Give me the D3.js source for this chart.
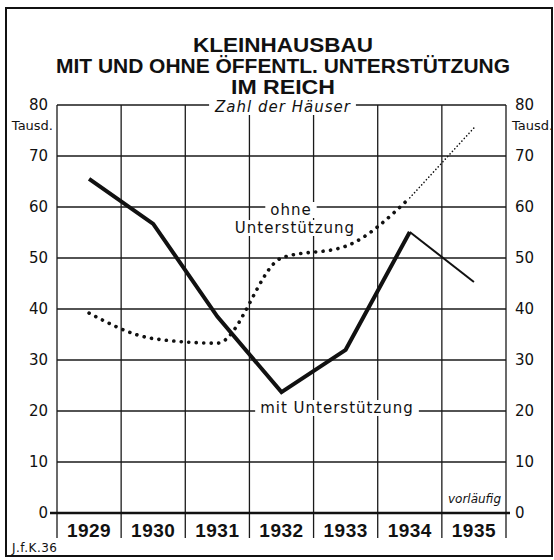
<!DOCTYPE html>
<html>
<head>
<meta charset="utf-8">
<script src="https://cdn.jsdelivr.net/npm/d3@7"></script>
<style>
  body { margin: 0; background: #fff; }
  svg { display: block; }
  .grid line { stroke: #1a1a1a; stroke-width: 1.3; }
  .lbl { font-family: "DejaVu Sans", sans-serif; fill: #111; }
  .title { font-family: "Liberation Sans", Arial, sans-serif; font-weight: bold; fill: #111; }
</style>
</head>
<body>
<div id="chart"></div>
<script>
// values (thousands of houses)
const years = ["1929", "1930", "1931", "1932", "1933", "1934", "1935"];
const mitValues = [65.5, 56.7, 38.5, 23.7, 32, 55.1, 45.3];
const ohneValues = [39.2, 34.2, 33.3, 50, 52.3, 61.8, 75.5];
const yTicks = [0, 10, 20, 30, 40, 50, 60, 70, 80];
const titleLines = ["KLEINHAUSBAU", "MIT UND OHNE ÖFFENTL. UNTERSTÜTZUNG", "IM REICH"];
// 1935 is provisional ("vorläufig")
const provisionalFrom = 5;

const width = 554,
      height = 560,
      plotLeft = 57,
      plotRight = 506,
      plotTop = 105,
      plotBottom = 513;

const svg = d3.select("#chart")
  .append("svg")
  .attr("width", width)
  .attr("height", height);

// frame
svg.append("rect")
  .attr("x", 6).attr("y", 8)
  .attr("width", 546).attr("height", 548)
  .attr("fill", "none")
  .attr("stroke", "#111")
  .attr("stroke-width", 2);

const xScale = d3.scaleBand()
  .domain(years)
  .range([plotLeft, plotRight])
  .padding(0);

const yScale = d3.scaleLinear()
  .domain([0, 80])
  .range([plotBottom, plotTop]);

const cx = d => xScale(d) + xScale.bandwidth() / 2;

// grid
const grid = svg.append("g").attr("class", "grid");

grid.selectAll(".h")
  .data(yTicks.filter(d => d > 0))
  .enter()
  .append("line")
  .attr("x1", plotLeft).attr("x2", plotRight)
  .attr("y1", d => yScale(d)).attr("y2", d => yScale(d));

grid.selectAll(".v")
  .data(years.map(d => xScale(d)).concat([plotRight]))
  .enter()
  .append("line")
  .attr("x1", d => d).attr("x2", d => d)
  .attr("y1", plotTop).attr("y2", plotBottom + 25);

// zero line, a little wider than the grid
svg.append("line")
  .attr("x1", plotLeft - 7).attr("x2", plotRight + 4)
  .attr("y1", yScale(0)).attr("y2", yScale(0))
  .attr("stroke", "#111")
  .attr("stroke-width", 2.6);

// y axes, left and right
const leftAxis = d3.axisLeft(yScale).tickValues(yTicks).tickSize(0).tickPadding(9);
const rightAxis = d3.axisRight(yScale).tickValues(yTicks).tickSize(0).tickPadding(9);

svg.append("g")
  .attr("transform", `translate(${plotLeft},0)`)
  .call(leftAxis)
  .call(g => g.select(".domain").remove())
  .selectAll("text")
  .attr("class", "lbl")
  .style("font-size", "15px");

svg.append("g")
  .attr("transform", `translate(${plotRight},0)`)
  .call(rightAxis)
  .call(g => g.select(".domain").remove())
  .selectAll("text")
  .attr("class", "lbl")
  .style("font-size", "15px");

svg.append("text").attr("class", "lbl")
  .attr("x", 53).attr("y", yScale(80) + 25)
  .attr("text-anchor", "end")
  .style("font-size", "13px")
  .text("Tausd.");

svg.append("text").attr("class", "lbl")
  .attr("x", 512).attr("y", yScale(80) + 25)
  .style("font-size", "13px")
  .text("Tausd.");

// year labels
svg.selectAll(".year")
  .data(years)
  .enter()
  .append("text")
  .attr("class", "title")
  .attr("x", d => cx(d))
  .attr("y", plotBottom + 24)
  .attr("text-anchor", "middle")
  .style("font-size", "19px")
  .style("letter-spacing", "0.5px")
  .text(d => d);

// lines
const mitPts = years.map((d, i) => [cx(d), yScale(mitValues[i])]);
const ohnePts = years.map((d, i) => [cx(d), yScale(ohneValues[i])]);

const straight = d3.line();
const smooth = d3.line().curve(d3.curveMonotoneX);

svg.append("path")
  .attr("d", straight(mitPts.slice(0, provisionalFrom + 1)))
  .attr("fill", "none")
  .attr("stroke", "#111")
  .attr("stroke-width", 4)
  .attr("stroke-linejoin", "miter");

svg.append("path")
  .attr("d", straight(mitPts.slice(provisionalFrom)))
  .attr("fill", "none")
  .attr("stroke", "#111")
  .attr("stroke-width", 2);

svg.append("path")
  .attr("d", smooth(ohnePts.slice(0, provisionalFrom + 1)))
  .attr("fill", "none")
  .attr("stroke", "#111")
  .attr("stroke-width", 3.6)
  .attr("stroke-linecap", "round")
  .attr("stroke-dasharray", "0.1 7.4");

svg.append("path")
  .attr("d", straight(ohnePts.slice(provisionalFrom)))
  .attr("fill", "none")
  .attr("stroke", "#111")
  .attr("stroke-width", 1.6)
  .attr("stroke-linecap", "round")
  .attr("stroke-dasharray", "0.1 3.4");

// text labels with white backing so the grid breaks around them
function boxedText(x, y, txt, size, anchor, italic) {
  const t = svg.append("text")
    .attr("class", "lbl")
    .attr("x", x).attr("y", y)
    .attr("text-anchor", anchor)
    .style("font-size", size + "px")
    .style("letter-spacing", "1px")
    .style("font-style", italic ? "italic" : "normal")
    .text(txt);
  const b = t.node().getBBox();
  svg.insert("rect", () => t.node())
    .attr("x", b.x - 5).attr("y", b.y + 1)
    .attr("width", b.width + 10).attr("height", b.height - 2)
    .attr("fill", "#fff");
  return t;
}

boxedText(283, 112, "Zahl der Häuser", 15, "middle", true);
boxedText(291, 215, "ohne", 15, "middle", false);
boxedText(295, 233, "Unterstützung", 15, "middle", false);
boxedText(337, 413, "mit Unterstützung", 15, "middle", false);

svg.append("text").attr("class", "lbl")
  .attr("x", 501).attr("y", 503)
  .attr("text-anchor", "end")
  .style("font-size", "12px")
  .style("font-style", "italic")
  .text("vorläufig");

// title
svg.selectAll(".t")
  .data(titleLines)
  .enter()
  .append("text")
  .attr("class", "title")
  .attr("x", 283)
  .attr("y", (d, i) => 52 + i * 21)
  .attr("text-anchor", "middle")
  .style("font-size", "20px")
  .attr("textLength", (d, i) => [180, 454, 104][i])
  .attr("lengthAdjust", "spacingAndGlyphs")
  .text(d => d);

svg.append("text").attr("class", "lbl")
  .attr("x", 12).attr("y", 552)
  .style("font-size", "12px")
  .style("letter-spacing", "0.5px")
  .text("J.f.K.36");
</script>
</body>
</html>
